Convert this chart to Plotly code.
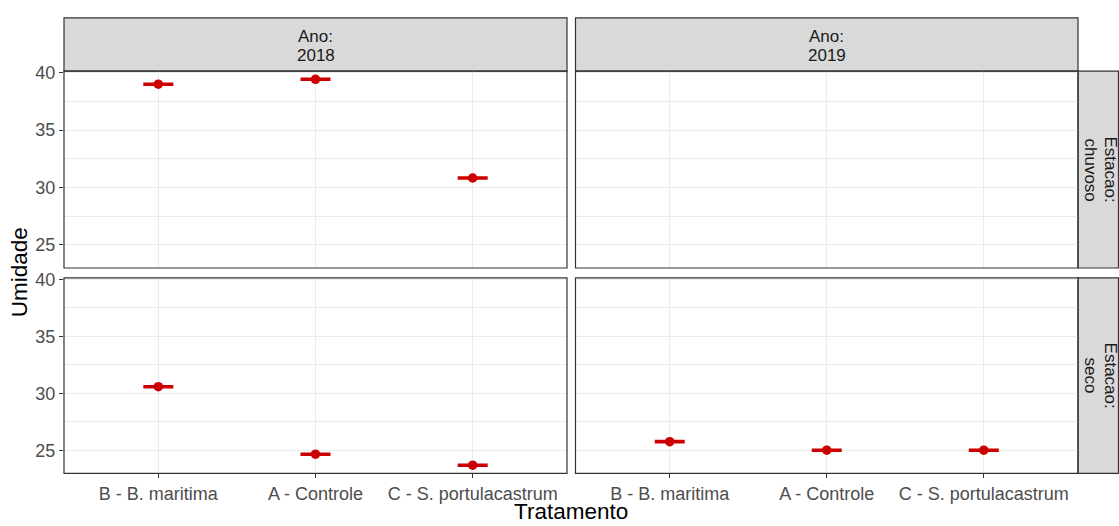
import plotly.graph_objects as go

# ---------------- data ----------------
tratamentos = ["B - B. maritima", "A - Controle", "C - S. portulacastrum"]
anos = ["2018", "2019"]
estacoes = ["chuvoso", "seco"]

umid_2018_chuvoso = [39.0, 39.43, 30.82]
umid_2018_seco = [30.58, 24.65, 23.68]
umid_2019_chuvoso = []          # sem dados
umid_2019_seco = [25.75, 25.0, 25.0]

se_2018_chuvoso = [0.05, 0.05, 0.05]
se_2018_seco = [0.05, 0.05, 0.05]
se_2019_chuvoso = []
se_2019_seco = [0.05, 0.05, 0.05]

y_ticks = [25, 30, 35, 40]
y_range = [22.97, 40.15]

# ---------------- layout geometry (pixels) ----------------
W, H = 1119, 526
col_px = [(64, 567), (575.5, 1078)]
row_px = [(64, 264), (274, 472.5)]   # from top


def px_x(a):
    return a / W


def px_y(a):
    return 1 - a / H


RED = "#CC0000"
GRID = "#EBEBEB"
DARK = "#333333"
FONT = "Liberation Sans, Arial, sans-serif"
TICK_SIZE = 18
STRIP_SIZE = 17
TITLE_SIZE = 22.5

fig = go.Figure()

panels = {
    (0, 0): (umid_2018_chuvoso, se_2018_chuvoso),
    (0, 1): (umid_2019_chuvoso, se_2019_chuvoso),
    (1, 0): (umid_2018_seco, se_2018_seco),
    (1, 1): (umid_2019_seco, se_2019_seco),
}

shapes = []
annotations = []

for (r, c), (vals, ses) in panels.items():
    idx = r * 2 + c + 1
    sfx = "" if idx == 1 else str(idx)
    xname, yname = "x" + sfx, "y" + sfx
    xpos = list(range(len(vals)))
    fig.add_trace(go.Scatter(
        x=xpos, y=vals, xaxis=xname, yaxis=yname, mode="markers",
        marker=dict(color=RED, size=9.5),
        error_y=dict(type="data", array=ses, color=RED, thickness=2.5, width=15, visible=True),
        showlegend=False, cliponaxis=False,
    ))
    x0, x1 = col_px[c]
    y0, y1 = row_px[r]
    fig.layout["xaxis" + sfx] = dict(
        domain=[px_x(x0), px_x(x1)], anchor=yname,
        range=[-0.6, len(tratamentos) - 0.4],
        tickmode="array", tickvals=list(range(len(tratamentos))),
        ticktext=tratamentos, showticklabels=(r == 1),
        ticks="outside" if r == 1 else "", ticklen=4, tickcolor=DARK, tickwidth=1,
        showgrid=True, gridcolor=GRID, gridwidth=1, zeroline=False,
        showline=False,
        tickfont=dict(family=FONT, size=TICK_SIZE, color="#4D4D4D"),
    )
    fig.layout["yaxis" + sfx] = dict(
        domain=[px_y(y1), px_y(y0)], anchor=xname,
        range=y_range, tickmode="array", tickvals=y_ticks,
        showticklabels=(c == 0),
        ticks="outside" if c == 0 else "", ticklen=4, tickcolor=DARK, tickwidth=1,
        showgrid=True, gridcolor=GRID, gridwidth=1, zeroline=False,
        showline=False,
        minor=dict(tickvals=[22.5, 27.5, 32.5, 37.5], showgrid=True, gridcolor=GRID, gridwidth=0.6, ticks=""),
        tickfont=dict(family=FONT, size=TICK_SIZE, color="#4D4D4D"),
    )
    # panel border
    shapes.append(dict(type="rect", xref=xname + " domain", yref=yname + " domain",
                       x0=0, x1=1, y0=0, y1=1, line=dict(color=DARK, width=1.2),
                       fillcolor="rgba(0,0,0,0)", layer="above"))

strip_font = dict(family=FONT, size=STRIP_SIZE, color="#1A1A1A")

# top strips (Ano)
for c, ano in enumerate(anos):
    x0, x1 = col_px[c]
    shapes.append(dict(type="rect", xref="paper", yref="paper",
                       x0=px_x(x0), x1=px_x(x1), y0=px_y(64), y1=px_y(10),
                       fillcolor="#D9D9D9", line=dict(color=DARK, width=1.2), layer="below"))
    for txt, ypix in (("Ano:", 28.5), (ano, 48.5)):
        annotations.append(dict(xref="paper", yref="paper", x=px_x((x0 + x1) / 2), y=px_y(ypix),
                                text=txt, showarrow=False, font=strip_font,
                                xanchor="center", yanchor="middle"))

# right strips (Estacao)
for r, est in enumerate(estacoes):
    y0, y1 = row_px[r]
    shapes.append(dict(type="rect", xref="paper", yref="paper",
                       x0=px_x(1078), x1=px_x(1118.5), y0=px_y(y1), y1=px_y(y0),
                       fillcolor="#D9D9D9", line=dict(color=DARK, width=1.2), layer="below"))
    for txt, xpix in (("Estacao:", 1110), (est, 1090)):
        annotations.append(dict(xref="paper", yref="paper", x=px_x(xpix), y=px_y((y0 + y1) / 2),
                                text=txt, showarrow=False, textangle=90, font=strip_font,
                                xanchor="center", yanchor="middle"))

# axis titles
annotations.append(dict(xref="paper", yref="paper", x=px_x((64 + 1078) / 2), y=px_y(511.5),
                        text="Tratamento", showarrow=False,
                        font=dict(family=FONT, size=TITLE_SIZE, color="#000000"),
                        xanchor="center", yanchor="middle"))
annotations.append(dict(xref="paper", yref="paper", x=px_x(19), y=px_y((64 + 472.5) / 2),
                        text="Umidade", showarrow=False, textangle=-90,
                        font=dict(family=FONT, size=TITLE_SIZE, color="#000000"),
                        xanchor="center", yanchor="middle"))

fig.update_layout(
    width=W, height=H,
    margin=dict(l=0, r=0, t=0, b=0),
    paper_bgcolor="white", plot_bgcolor="white",
    shapes=shapes, annotations=annotations,
    font=dict(family=FONT),
)

fig.write_html("out.html")
